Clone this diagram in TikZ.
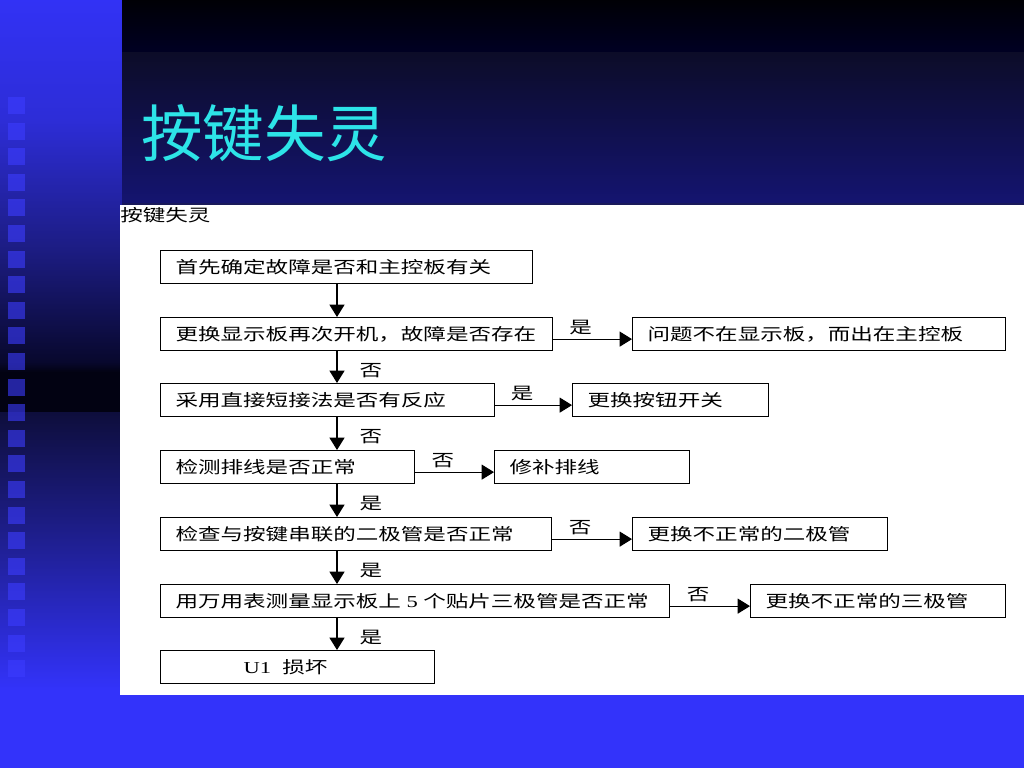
\documentclass[tikz,border=0pt]{standalone}
\usepackage{fontspec}
\newfontfamily\cjk[FakeStretch=1.35]{Noto Sans CJK SC}
\newfontfamily\lat[FakeStretch=1.35]{Liberation Serif}
\newfontfamily\titlefont{Noto Sans CJK SC}
\usetikzlibrary{arrows.meta}
\definecolor{bblue}{RGB}{51,51,250}
\definecolor{titlecyan}{RGB}{45,228,232}
\definecolor{sqcol}{RGB}{60,60,255}
\definecolor{lsA}{RGB}{50,50,245}
\definecolor{lsB}{RGB}{45,45,215}
\definecolor{lsC}{RGB}{28,28,130}
\definecolor{lsD}{RGB}{8,8,45}
\definecolor{lsE}{RGB}{2,2,18}
\definecolor{lsF}{RGB}{14,14,60}
\definecolor{tpA}{RGB}{0,0,5}
\definecolor{tpB}{RGB}{0,0,35}
\definecolor{tpC}{RGB}{12,12,40}
\definecolor{tpD}{RGB}{20,20,112}
\definecolor{tpE}{RGB}{25,25,90}
\begin{document}
\begin{tikzpicture}[x=0.02cm,y=-0.02cm,
  box/.style={draw=black, line width=0.7pt, anchor=north west, minimum height=0.66cm,
    inner ysep=0pt, inner xsep=0.3cm, align=left, font=\cjk\fontsize{9.5}{11}\selectfont},
  lab/.style={inner sep=0pt, font=\cjk\fontsize{9.5}{11}\selectfont},
  arr/.style={draw=black, line width=0.7pt, -{Triangle[length=7pt,width=8.5pt]}}]
\useasboundingbox (0,0) rectangle (1024,768);
% ---- background ----
\fill[bblue] (0,0) rectangle (1024,768);
\shade[top color=lsA, bottom color=lsB] (0,0) rectangle (122,120);
\shade[top color=lsB, bottom color=lsC] (0,120) rectangle (122,250);
\shade[top color=lsC, bottom color=lsD] (0,250) rectangle (122,362);
\shade[top color=lsD, bottom color=lsE] (0,362) rectangle (122,372);
\fill[lsE] (0,372) rectangle (122,412);
\shade[top color=lsF, bottom color=lsC] (0,412) rectangle (122,520);
\shade[top color=lsC, bottom color=bblue] (0,520) rectangle (122,690);
\shade[top color=tpA, bottom color=tpB] (122,0) rectangle (1024,52);
\shade[top color=tpC, bottom color=tpD] (122,52) rectangle (1024,203);
\fill[tpE] (122,203) rectangle (1024,205);
\foreach \k in {0,...,22} {
  \fill[sqcol, fill opacity=0.6] (8,{97+25.6*\k}) rectangle ++(17,17);
}
\fill[white] (120,205) rectangle (1024,695);
% ---- titles ----
\node[anchor=west, inner sep=0pt, text=titlecyan, font=\titlefont\fontsize{35}{40}\selectfont] (title) at (141,133) {按键失灵};
\node[anchor=west, inner sep=0pt, font=\cjk\fontsize{9.5}{11}\selectfont] (head) at (120,215) {按键失灵};
% ---- main column ----
\node[box, text width=6.84cm] (b1) at (160,250) {首先确定故障是否和主控板有关};
\node[box, text width=7.24cm] (b2) at (160,317) {更换显示板再次开机，故障是否存在};
\node[box, text width=6.08cm] (b3) at (160,383) {采用直接短接法是否有反应};
\node[box, text width=4.48cm] (b4) at (160,450) {检测排线是否正常};
\node[box, text width=7.22cm] (b5) at (160,517) {检查与按键串联的二极管是否正常};
\node[box, text width=9.58cm] (b6) at (160,584) {用万用表测量显示板上 {\lat 5} 个贴片三极管是否正常};
\node[box, text width=2.16cm, inner xsep=1.66cm] (b7) at (160,650) {{\lat U1}\ \ 损坏};
% ---- right column ----
\node[box, text width=6.86cm] (r2) at (632,317) {问题不在显示板，而出在主控板};
\node[box, text width=3.32cm] (r3) at (572,383) {更换按钮开关};
\node[box, text width=3.3cm] (r4) at (494,450) {修补排线};
\node[box, text width=4.5cm] (r5) at (632,517) {更换不正常的二极管};
\node[box, text width=4.5cm] (r6) at (750,584) {更换不正常的三极管};
% ---- vertical connectors ----
\coordinate (ax) at (337,0);
\draw[arr] (b1.south -| ax) -- (b2.north -| ax);
\draw[arr] (b2.south -| ax) -- node[lab, pos=0.6, right=0.44cm] {否} (b3.north -| ax);
\draw[arr] (b3.south -| ax) -- node[lab, pos=0.6, right=0.44cm] {否} (b4.north -| ax);
\draw[arr] (b4.south -| ax) -- node[lab, pos=0.6, right=0.44cm] {是} (b5.north -| ax);
\draw[arr] (b5.south -| ax) -- node[lab, pos=0.6, right=0.44cm] {是} (b6.north -| ax);
\draw[arr] (b6.south -| ax) -- node[lab, pos=0.6, right=0.44cm] {是} (b7.north -| ax);
% ---- horizontal connectors ----
\coordinate (s2) at ([yshift=-0.1cm]b2.east);
\coordinate (s3) at ([yshift=-0.1cm]b3.east);
\coordinate (s4) at ([yshift=-0.1cm]b4.east);
\coordinate (s5) at ([yshift=-0.1cm]b5.east);
\coordinate (s6) at ([yshift=-0.1cm]b6.east);
\draw[arr] (s2) -- node[lab, pos=0.35, above=2pt] {是} (s2 -| r2.west);
\draw[arr] (s3) -- node[lab, pos=0.35, above=2pt] {是} (s3 -| r3.west);
\draw[arr] (s4) -- node[lab, pos=0.35, above=2pt] {否} (s4 -| r4.west);
\draw[arr] (s5) -- node[lab, pos=0.35, above=2pt] {否} (s5 -| r5.west);
\draw[arr] (s6) -- node[lab, pos=0.35, above=2pt] {否} (s6 -| r6.west);
\end{tikzpicture}
\end{document}
